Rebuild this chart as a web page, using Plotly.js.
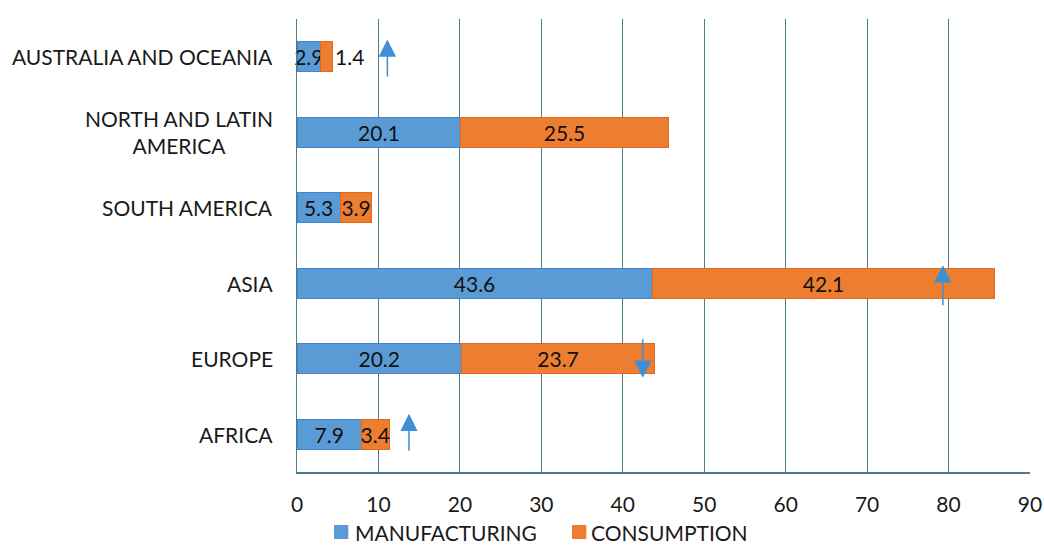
<!DOCTYPE html>
<html>
<head>
<meta charset="utf-8">
<script src="https://cdn.plot.ly/plotly-3.0.1.min.js"></script>
<style>html,body{margin:0;padding:0;background:#fff;}#chart{width:1044px;height:545px;}</style>
</head>
<body>
<div id="chart"></div>
<script>
// Categories listed bottom-to-top
const regions = ["AFRICA", "EUROPE", "ASIA", "SOUTH AMERICA", "NORTH AND LATIN<br>AMERICA", "AUSTRALIA AND OCEANIA"];
const manufacturing = [7.9, 20.2, 43.6, 5.3, 20.1, 2.9];
const consumption = [3.4, 23.7, 42.1, 3.9, 25.5, 1.4];
const xTicks = [0, 10, 20, 30, 40, 50, 60, 70, 80, 90];
const seriesNames = ["MANUFACTURING", "CONSUMPTION"];
const seriesColors = ["#5b9bd5", "#ed7d31"];

// Trend arrows (x value, tail y, head y in category-index units)
const arrowX    = [13.75, 42.45, 79.3, 11.1];
const arrowTail = [-0.24, 1.28, 1.69, 4.72];
const arrowHead = [0.27, 0.75, 2.24, 5.23];

const FONT = "Lato, 'Open Sans', sans-serif";
const GRID = "#4a7d8c";
const idx = regions.map((_, i) => i);

const traces = [
  {
    type: "bar", orientation: "h", name: seriesNames[0],
    y: idx, x: manufacturing,
    text: manufacturing.map(v => v.toFixed(1)),
    textposition: "inside", insidetextanchor: "middle", textangle: 0,
    constraintext: "none", cliponaxis: false,
    textfont: {family: FONT, size: 21, color: "#111"},
    marker: {color: seriesColors[0], line: {color: "#3f86cf", width: 1}},
    hoverinfo: "x", showlegend: false
  },
  {
    type: "bar", orientation: "h", name: seriesNames[1],
    y: idx, x: consumption,
    text: consumption.map(v => v.toFixed(1)),
    textposition: consumption.map((v, i) => i === 5 ? "outside" : "inside"),
    insidetextanchor: "middle", textangle: 0,
    constraintext: "none", cliponaxis: false,
    textfont: {family: FONT, size: 21, color: "#111"},
    outsidetextfont: {family: FONT, size: 21, color: "#111"},
    marker: {color: seriesColors[1], line: {color: "#e0691c", width: 1}},
    hoverinfo: "x", showlegend: false
  }
];

const annotations = [];
regions.forEach((r, i) => {
  annotations.push({
    xref: "paper", yref: "y", x: 0, y: i, xanchor: "right", xshift: -22,
    text: r, showarrow: false, align: "center",
    font: {family: FONT, size: 21, color: "#1a1a1a"}
  });
});
arrowX.forEach((ax, i) => {
  annotations.push({
    xref: "x", yref: "y", axref: "x", ayref: "y",
    x: ax, y: arrowHead[i], ax: ax, ay: arrowTail[i],
    text: "", showarrow: true, arrowhead: 2, arrowsize: 2.3, arrowwidth: 1.5,
    arrowcolor: "#3d8fd6", standoff: 0, startstandoff: 0
  });
});

// Legend drawn below the axis (paper coordinates)
const legendSwatchX = [0.0505, 0.3752];
const legendTextX = [0.0765, 0.3985];
const shapes = [];
seriesNames.forEach((n, i) => {
  shapes.push({
    type: "rect", xref: "paper", yref: "paper",
    x0: legendSwatchX[i], x1: legendSwatchX[i] + 0.0195,
    y0: -0.1479, y1: -0.117,
    fillcolor: seriesColors[i], line: {width: 0}
  });
  annotations.push({
    xref: "paper", yref: "paper", x: legendTextX[i], y: -0.1335,
    xanchor: "left", yanchor: "middle", text: n, showarrow: false,
    font: {family: FONT, size: 21, color: "#1a1a1a"}
  });
});

const layout = {
  width: 1044, height: 545,
  margin: {l: 297, r: 14, t: 19, b: 73, autoexpand: false},
  paper_bgcolor: "#fff", plot_bgcolor: "#fff",
  barmode: "stack", bargap: 0.6,
  font: {family: FONT, color: "#1a1a1a"},
  showlegend: false,
  xaxis: {
    range: [0, 90], tickvals: xTicks, ticktext: xTicks.map(String),
    showgrid: true, gridcolor: GRID, gridwidth: 1,
    showline: true, linecolor: GRID, linewidth: 1.5,
    zeroline: false, ticks: "", ticklabelstandoff: 13,
    tickfont: {family: FONT, size: 21, color: "#1a1a1a"},
    fixedrange: true
  },
  yaxis: {
    range: [-0.5, 5.5], showticklabels: false, showgrid: false,
    showline: true, linecolor: GRID, linewidth: 1.5, zeroline: false,
    ticks: "", fixedrange: true
  },
  shapes: shapes,
  annotations: annotations
};

Plotly.newPlot("chart", traces, layout, {displayModeBar: false, staticPlot: true});
</script>
</body>
</html>
